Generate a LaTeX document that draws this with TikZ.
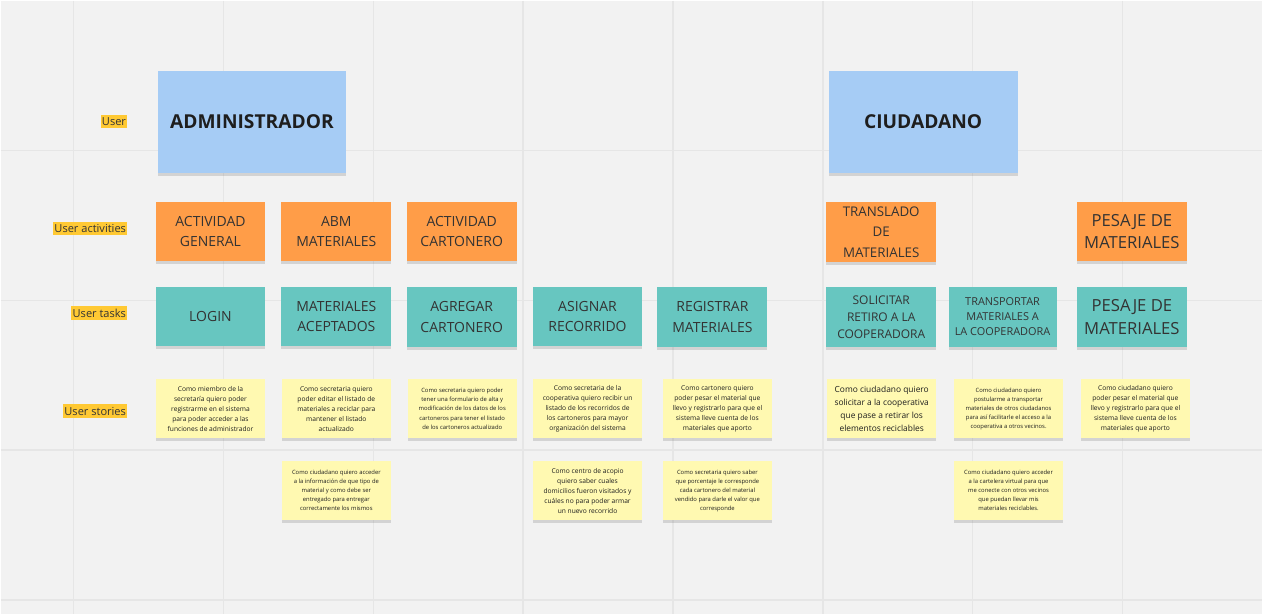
\documentclass[tikz,border=0pt]{standalone}
\usepackage{fontspec}
\setmainfont{Open Sans}
\usepackage{tikz}
\usetikzlibrary{shadows}

\definecolor{boardbg}{HTML}{F2F2F2}
\definecolor{gridln}{HTML}{E6E6E6}
\definecolor{userblue}{HTML}{A6CCF5}
\definecolor{actorange}{HTML}{FF9D48}
\definecolor{taskteal}{HTML}{67C6C0}
\definecolor{storyyellow}{HTML}{FFF9B1}
\definecolor{tagyellow}{HTML}{FFC933}
\definecolor{inkdark}{HTML}{1E1E1E}
\definecolor{inkgray}{HTML}{333333}

\begin{document}
\begin{tikzpicture}[x=0.75pt, y=-0.75pt,
		note/.style={inner sep=0pt, align=center, text=inkgray,
			general shadow={fill=black!60, opacity=.22, shadow yshift=-2.5pt}},
		usernote/.style={note, fill=userblue, minimum width=141.75pt, minimum height=76.5pt,
			text=inkdark, font=\fontsize{14.4}{18}\selectfont\bfseries},
		actnote/.style={note, fill=actorange, minimum width=82.5pt, minimum height=44.5pt,
			font=\fontsize{10.5}{15}\selectfont},
		tasknote/.style={note, fill=taskteal, minimum width=82.5pt, minimum height=44.5pt,
			font=\fontsize{10.5}{15.5}\selectfont},
		storynote/.style={note, fill=storyyellow, minimum width=82pt, minimum height=44pt,
			text=inkdark, font=\fontsize{5}{7.5}\selectfont},
		tinystory/.style={storynote, font=\fontsize{4.4}{6.8}\selectfont},
		rowtag/.style={anchor=east, fill=tagyellow, inner xsep=1pt, inner ysep=2pt,
			text=inkgray, font=\fontsize{8.3}{10}\selectfont}]
	
	% board
	\fill[boardbg] (0,0) rectangle (1263,614);
	\foreach \gx in {73,223,...,1123}
	\draw[gridln, line width=1.1pt] (\gx,0) -- (\gx,614);
	\foreach \gy in {150,300,450,600}
	\draw[gridln, line width=1.1pt] (0,\gy) -- (1263,\gy);
	
	% row tags
	\node[rowtag] (tagUser) at (127,121) {User};
	\node[rowtag] (tagAct) at (127,228) {User activities};
	\node[rowtag] (tagTask) at (127,313) {User tasks};
	\node[rowtag] (tagStory) at (127,411) {User stories};
	
	% users
	\node[usernote] (admin) at (251.5,121) {ADMINISTRADOR};
	\node[usernote] (ciud) at (923.5,121) {CIUDADANO};
	
	% activities
	\node[actnote] (actGeneral) at (210,231) {ACTIVIDAD\\GENERAL};
	\node[actnote] (actAbm) at (336,231) {ABM\\MATERIALES};
	\node[actnote] (actCarton) at (461.5,231) {ACTIVIDAD\\CARTONERO};
	\node[actnote, font=\fontsize{10}{15.5}\selectfont] (actTraslado) at (881.5,231.5) {TRANSLADO\\DE\\MATERIALES};
	\node[actnote, font=\fontsize{12.5}{17}\selectfont] (actPesaje) at (1132.5,231) {PESAJE DE\\MATERIALES};
	
	% tasks
	\node[tasknote] (tLogin) at (210,316) {LOGIN};
	\node[tasknote] (tMatAcep) at (336,316) {MATERIALES\\ACEPTADOS};
	\node[tasknote] (tAgregar) at (461.5,316.5) {AGREGAR\\CARTONERO};
	\node[tasknote] (tAsignar) at (587.5,316) {ASIGNAR\\RECORRIDO};
	\node[tasknote] (tRegistrar) at (712.5,316.5) {REGISTRAR\\MATERIALES};
	\node[tasknote, font=\fontsize{9}{12.8}\selectfont] (tSolicitar) at (881.5,316.5) {SOLICITAR\\RETIRO A LA\\COOPERADORA};
	\node[tasknote, minimum width=81pt, font=\fontsize{8.2}{11.3}\selectfont] (tTransp) at (1003,316.5) {TRANSPORTAR\\MATERIALES A\\LA COOPERADORA};
	\node[tasknote, font=\fontsize{12.5}{17}\selectfont] (tPesaje) at (1132.5,316.5) {PESAJE DE\\MATERIALES};
	
	% stories
	\node[storynote] (sAdmin) at (210,408.5) {Como miembro de la\\secretaría quiero poder\\registrarme en el sistema\\para poder acceder a las\\funciones de administrador};
	\node[storynote] (sEditar) at (336,408.5) {Como secretaria quiero\\poder editar el listado de\\materiales a reciclar para\\mantener el listado\\actualizado};
	\node[tinystory] (sAlta) at (462,408.5) {Como secretaria quiero poder\\tener una formulario de alta y\\modificación de los datos de los\\cartoneros para tener el listado\\de los cartoneros actualizado};
	\node[storynote] (sRecibir) at (587.5,408.5) {Como secretaria de la\\cooperativa quiero recibir un\\listado de los recorridos de\\los cartoneros para mayor\\organización del sistema};
	\node[storynote] (sPesarC) at (717.5,408.5) {Como cartonero quiero\\poder pesar el material que\\llevo y registrarlo para que el\\sistema lleve cuenta de los\\materiales que aporto};
	\node[storynote, font=\fontsize{6.3}{9.6}\selectfont] (sRetiro) at (882,408.5) {Como ciudadano quiero\\solicitar a la cooperativa\\que pase a retirar los\\elementos reciclables};
	\node[tinystory] (sPostular) at (1009,408.5) {Como ciudadano quiero\\postularme a transportar\\materiales de otros ciudadanos\\para así facilitarle el acceso a la\\cooperativa a otros vecinos.};
	\node[storynote] (sPesarV) at (1136,408.5) {Como ciudadano quiero\\poder pesar el material que\\llevo y registrarlo para que el\\sistema lleve cuenta de los\\materiales que aporto};
	
	\node[tinystory] (sInfo) at (336,490.5) {Como ciudadano quiero acceder\\a la información de que tipo de\\material y como debe ser\\entregado para entregar\\correctamente los mismos};
	\node[storynote] (sAcopio) at (587.5,490.5) {Como centro de acopio\\quiero saber cuales\\domicilios fueron visitados y\\cuáles no para poder armar\\un nuevo recorrido};
	\node[tinystory] (sPorcent) at (717.5,490.5) {Como secretaria quiero saber\\que porcentaje le corresponde\\cada cartonero del material\\vendido para darle el valor que\\corresponde};
	\node[tinystory] (sCartelera) at (1009,490.5) {Como ciudadano quiero acceder\\a la cartelera virtual para que\\me conecte con otros vecinos\\que puedan llevar mis\\materiales reciclables.};
	
\end{tikzpicture}
\end{document}
